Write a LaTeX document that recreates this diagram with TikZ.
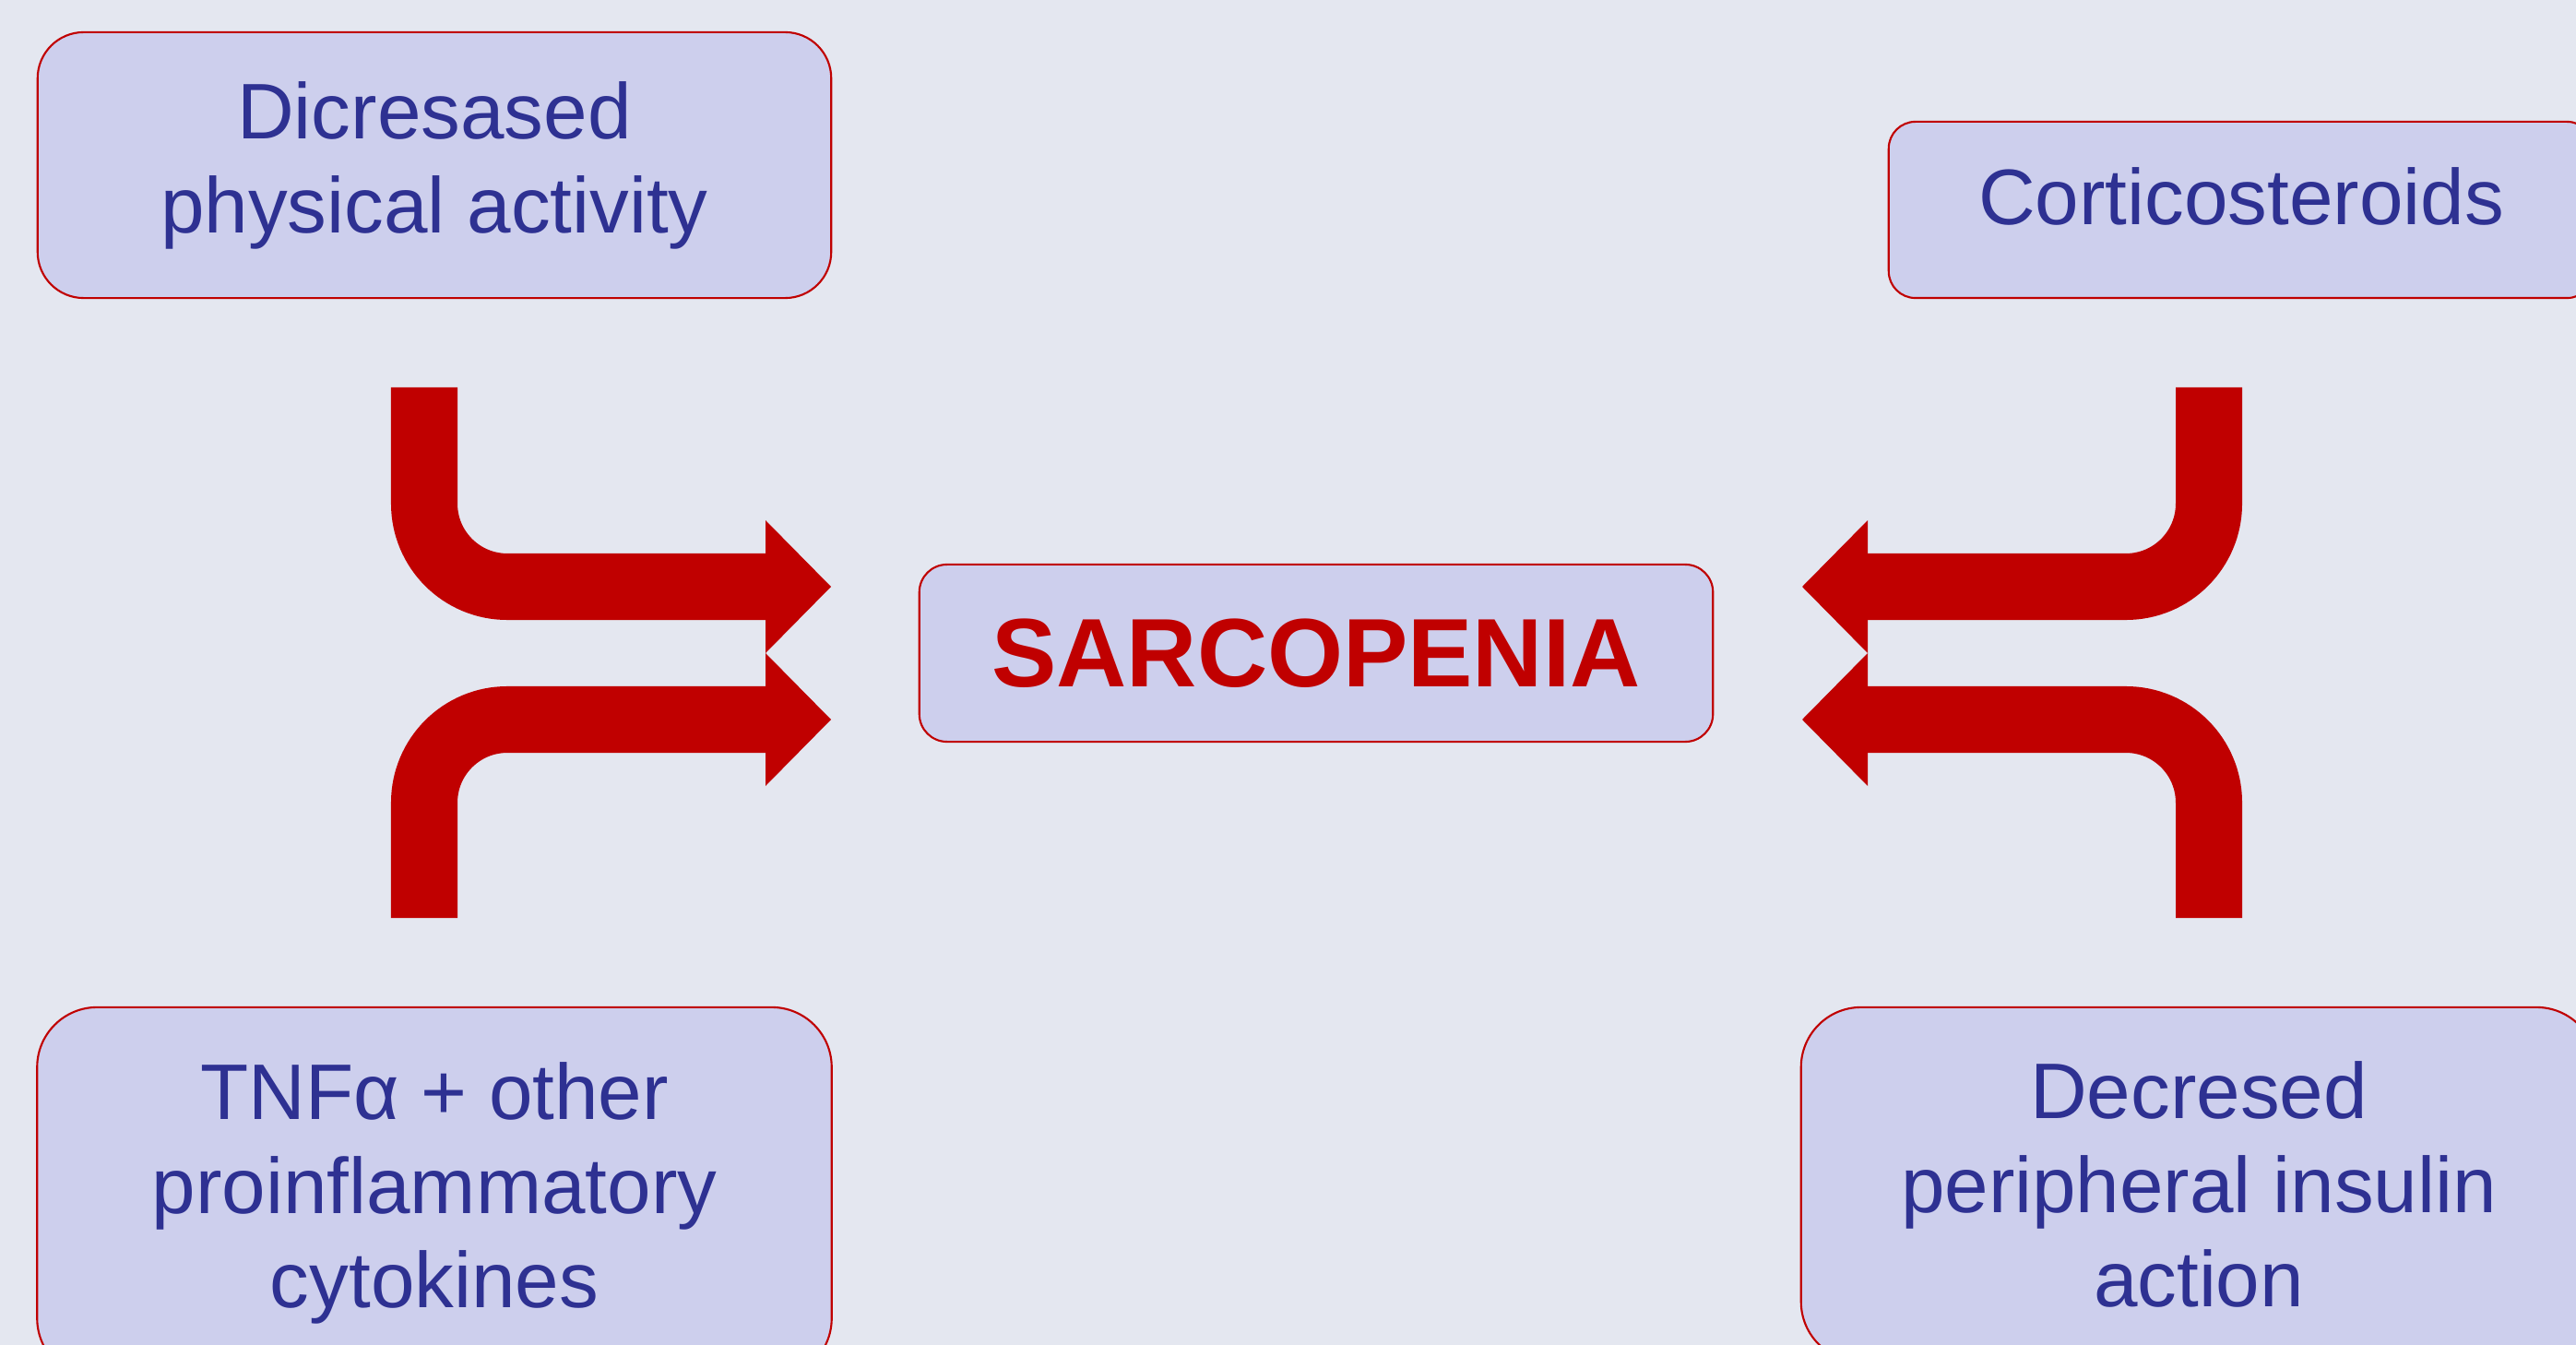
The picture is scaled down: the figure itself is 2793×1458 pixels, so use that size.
\documentclass[tikz,border=0pt]{standalone}
\usepackage{fontspec}
\setmainfont{Liberation Sans}
\definecolor{bgcol}{HTML}{E4E7F0}
\definecolor{boxfill}{HTML}{CDCFED}
\definecolor{boxtext}{HTML}{2E3192}
\definecolor{arrowred}{HTML}{C00000}
\tikzstyle{causebox} = [draw=arrowred,line width=0.6pt,fill=boxfill,text=boxtext,align=center,inner sep=0pt,font=\fontsize{24.3}{29}\selectfont]
\tikzstyle{mainbox} = [draw=arrowred,line width=0.6pt,fill=boxfill,text=arrowred,inner sep=0pt,font=\fontsize{30}{36}\selectfont\bfseries]
\tikzstyle{shaft} = [draw=arrowred,line width=0.72cm,rounded corners=0.9cm]
\tikzstyle{head} = [fill=arrowred]

\begin{document}
\begin{tikzpicture}[x=0.01cm,y=-0.01cm]
  \useasboundingbox (0,0) rectangle (2793,1458);
  \clip (0,0) rectangle (2793,1458);
  \fill[bgcol] (0,0) rectangle (2793,1458);

  \node[causebox,minimum width=8.6cm,minimum height=2.88cm,rounded corners=0.5cm] (activity) at (471,179) {Dicresased\\physical activity};
  \node[causebox,minimum width=7.64cm,minimum height=1.91cm,rounded corners=0.29cm,text depth=0.3cm] (steroids) at (2430,227.5) {Corticosteroids};
  \node[causebox,minimum width=8.61cm,minimum height=4.02cm,rounded corners=0.65cm] (cytokines) at (471,1293) {TNFα + other\\proinflammatory\\cytokines};
  \node[causebox,minimum width=8.62cm,minimum height=3.84cm,rounded corners=0.65cm] (insulin) at (2384,1284) {Decresed\\peripheral insulin\\action};
  \node[mainbox,minimum width=8.6cm,minimum height=1.92cm,rounded corners=0.3cm] (sarco) at (1427,708) {SARCOPENIA};

  \coordinate (a1s) at (460,420);
  \coordinate (a1t) at (901,636);
  \coordinate (a2s) at (460,995);
  \coordinate (a2t) at (901,780);
  \coordinate (a3s) at (2395,420);
  \coordinate (a3t) at (1954,636);
  \coordinate (a4s) at (2395,995);
  \coordinate (a4t) at (1954,780);

  \draw[shaft] (a1s) |- ([xshift=-0.69cm]a1t);
  \fill[head] (a1t) -- ++(-71,-72) -- ++(0,144) -- cycle;
  \draw[shaft] (a2s) |- ([xshift=-0.69cm]a2t);
  \fill[head] (a2t) -- ++(-71,-72) -- ++(0,144) -- cycle;
  \draw[shaft] (a3s) |- ([xshift=0.69cm]a3t);
  \fill[head] (a3t) -- ++(71,-72) -- ++(0,144) -- cycle;
  \draw[shaft] (a4s) |- ([xshift=0.69cm]a4t);
  \fill[head] (a4t) -- ++(71,-72) -- ++(0,144) -- cycle;
\end{tikzpicture}
\end{document}
